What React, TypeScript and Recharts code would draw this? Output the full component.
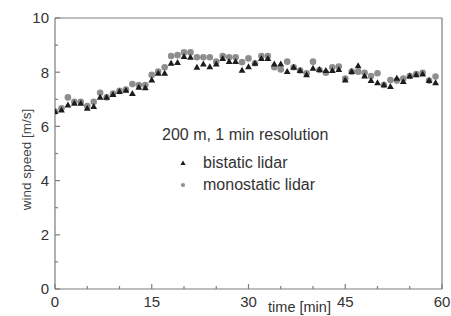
import React from 'react';
import { ScatterChart, Scatter, XAxis, YAxis, ReferenceLine, Legend } from 'recharts';

const minutes = [
  0, 1, 2, 3, 4, 5, 6, 7, 8, 9, 10, 11, 12, 13, 14, 15, 16, 17, 18, 19,
  20, 21, 22, 23, 24, 25, 26, 27, 28, 29, 30, 31, 32, 33, 34, 35, 36, 37, 38, 39,
  40, 41, 42, 43, 44, 45, 46, 47, 48, 49, 50, 51, 52, 53, 54, 55, 56, 57, 58, 59,
];

const bistatic = [
  6.55, 6.6, 6.79, 6.85, 6.85, 6.67, 6.73, 7.07, 7.07, 7.17,
  7.28, 7.33, 7.21, 7.44, 7.42, 7.71, 7.96, 7.96, 8.33, 8.35,
  8.58, 8.55, 8.18, 8.3, 8.2, 8.3, 8.5, 8.39, 8.39, 8.07,
  8.2, 8.33, 8.5, 8.5, 8.3, 8.3, 8.02, 8.18, 8.06, 7.9,
  8.14, 8.1, 8.06, 8.06, 8.1, 7.71, 8.02, 8.23, 7.86, 7.69,
  7.61, 7.53, 7.47, 7.77, 7.65, 7.86, 7.9, 7.93, 7.69, 7.61,
];

const monostatic = [
  6.55, 6.67, 7.07, 6.91, 6.91, 6.75, 6.91, 7.24, 7.07, 7.21,
  7.31, 7.36, 7.56, 7.53, 7.53, 7.9, 8.02, 8.18, 8.6, 8.63,
  8.73, 8.73, 8.55, 8.55, 8.55, 8.39, 8.6, 8.55, 8.55, 8.37,
  8.51, 8.33, 8.6, 8.6, 8.18, 8.1, 8.39, 8.18, 8.06, 7.96,
  8.39, 8.08, 7.98, 8.18, 8.21, 7.77, 8.02, 8.02, 7.98, 7.86,
  7.96, 7.53, 7.71, 7.69, 7.77, 7.86, 7.93, 7.98, 7.69, 7.84,
];

const xMajorTicks = [0, 15, 30, 45, 60];
const xAllTicks = [0, 5, 10, 15, 20, 25, 30, 35, 40, 45, 50, 55, 60];
const yMajorTicks = [0, 2, 4, 6, 8, 10];
const yAllTicks = [0, 1, 2, 3, 4, 5, 6, 7, 8, 9, 10];

const seriesNames = ['bistatic lidar', 'monostatic lidar'];
const annotation = '200 m, 1 min resolution';
const xLabel = 'time [min]';
const yLabel = 'wind speed [m/s]';

const bistaticData = minutes.map((t, i) => ({ t, v: bistatic[i] }));
const monostaticData = minutes.map((t, i) => ({ t, v: monostatic[i] }));

const FONT = '"Liberation Sans", Arial, Helvetica, sans-serif';
const AXIS_COLOR = '#7c7c7c';
const TEXT_COLOR = '#333333';
const TRI_COLOR = '#1c1c1c';
const CIRCLE_COLOR = '#8e8e8e';

const X_TICK_MARGIN = 7;
const Y_TICK_MARGIN = 6;

const XTick = (props: any) => {
  const { x, y, payload } = props;
  const v = payload.value;
  const major = xMajorTicks.includes(v);
  const axisY = y - X_TICK_MARGIN;
  const len = major ? 5 : 3;
  return (
    <g>
      <line x1={x} x2={x} y1={axisY} y2={axisY - len} stroke={AXIS_COLOR} strokeWidth={1.2} />
      {major && (
        <text x={x} y={y} dy="0.71em" textAnchor="middle" fontSize={15} fontFamily={FONT} fill={TEXT_COLOR}>
          {v}
        </text>
      )}
    </g>
  );
};

const YTick = (props: any) => {
  const { x, y, payload } = props;
  const v = payload.value;
  const major = yMajorTicks.includes(v);
  const axisX = x + Y_TICK_MARGIN;
  const len = major ? 5 : 3;
  return (
    <g>
      <line x1={axisX} x2={axisX + len} y1={y} y2={y} stroke={AXIS_COLOR} strokeWidth={1.2} />
      {major && (
        <text x={x} y={y} dy="0.355em" textAnchor="end" fontSize={15} fontFamily={FONT} fill={TEXT_COLOR}>
          {v}
        </text>
      )}
    </g>
  );
};

const Triangle = (props: any) => {
  const { cx, cy } = props;
  if (cx == null || cy == null) return null;
  return (
    <polygon
      points={`${cx},${cy - 3.6} ${cx + 3.4},${cy + 2.4} ${cx - 3.4},${cy + 2.4}`}
      fill={TRI_COLOR}
    />
  );
};

const Dot = (props: any) => {
  const { cx, cy } = props;
  if (cx == null || cy == null) return null;
  return <circle cx={cx} cy={cy} r={3.3} fill={CIRCLE_COLOR} />;
};

const LegendContent = () => (
  <div style={{ fontFamily: FONT, fontSize: 16, color: TEXT_COLOR, lineHeight: '22px' }}>
    <div style={{ marginBottom: 6, whiteSpace: 'nowrap' }}>{annotation}</div>
    {seriesNames.map((name, i) => (
      <div key={name} style={{ display: 'flex', alignItems: 'center', height: 22, whiteSpace: 'nowrap' }}>
        <div style={{ width: 17 }} />
        <svg width={8} height={8} style={{ display: 'block' }}>
          {i === 0 ? (
            <polygon points="4,1.5 6.6,6 1.4,6" fill={TRI_COLOR} />
          ) : (
            <circle cx={4} cy={4} r={2.1} fill={CIRCLE_COLOR} />
          )}
        </svg>
        <div style={{ width: 16 }} />
        <span>{name}</span>
      </div>
    ))}
  </div>
);

export default function App() {
  return (
    <div style={{ position: 'absolute', left: 0, top: 0, width: 451, height: 316, background: '#fff' }}>
      <ScatterChart width={451} height={316} margin={{ top: 18, right: 9, bottom: 0, left: 0 }}>
        <XAxis
          dataKey="t"
          type="number"
          domain={[0, 60]}
          ticks={xAllTicks}
          interval={0}
          height={27}
          tickSize={0}
          tickMargin={X_TICK_MARGIN}
          tickLine={false}
          tick={<XTick />}
          axisLine={{ stroke: AXIS_COLOR, strokeWidth: 1.2 }}
          allowDataOverflow
          label={{
            value: xLabel,
            position: 'center',
            dx: 51,
            dy: 4,
            style: { fontFamily: FONT, fontSize: 14.5, fill: TEXT_COLOR },
          }}
        />
        <YAxis
          dataKey="v"
          type="number"
          domain={[0, 10]}
          ticks={yAllTicks}
          interval={0}
          width={55}
          tickSize={0}
          tickMargin={Y_TICK_MARGIN}
          tickLine={false}
          tick={<YTick />}
          axisLine={{ stroke: AXIS_COLOR, strokeWidth: 1.2 }}
          allowDataOverflow
          label={{
            value: yLabel,
            angle: -90,
            position: 'center',
            dx: -1,
            dy: 6,
            style: { fontFamily: FONT, fontSize: 13.5, fill: '#444', textAnchor: 'middle' },
          }}
        />
        <ReferenceLine x={60} stroke={AXIS_COLOR} strokeWidth={1.2} ifOverflow="visible" />
        <ReferenceLine y={10} stroke={AXIS_COLOR} strokeWidth={1.2} ifOverflow="visible" />
        <Scatter
          name={seriesNames[1]}
          data={monostaticData}
          dataKey="v"
          shape={<Dot />}
          legendType="circle"
          isAnimationActive={false}
        />
        <Scatter
          name={seriesNames[0]}
          data={bistaticData}
          dataKey="v"
          shape={<Triangle />}
          legendType="triangle"
          isAnimationActive={false}
        />
        <Legend
          layout="vertical"
          align="center"
          verticalAlign="middle"
          content={<LegendContent />}
          wrapperStyle={{ left: 162, top: 124, width: 220 }}
        />
      </ScatterChart>
    </div>
  );
}
